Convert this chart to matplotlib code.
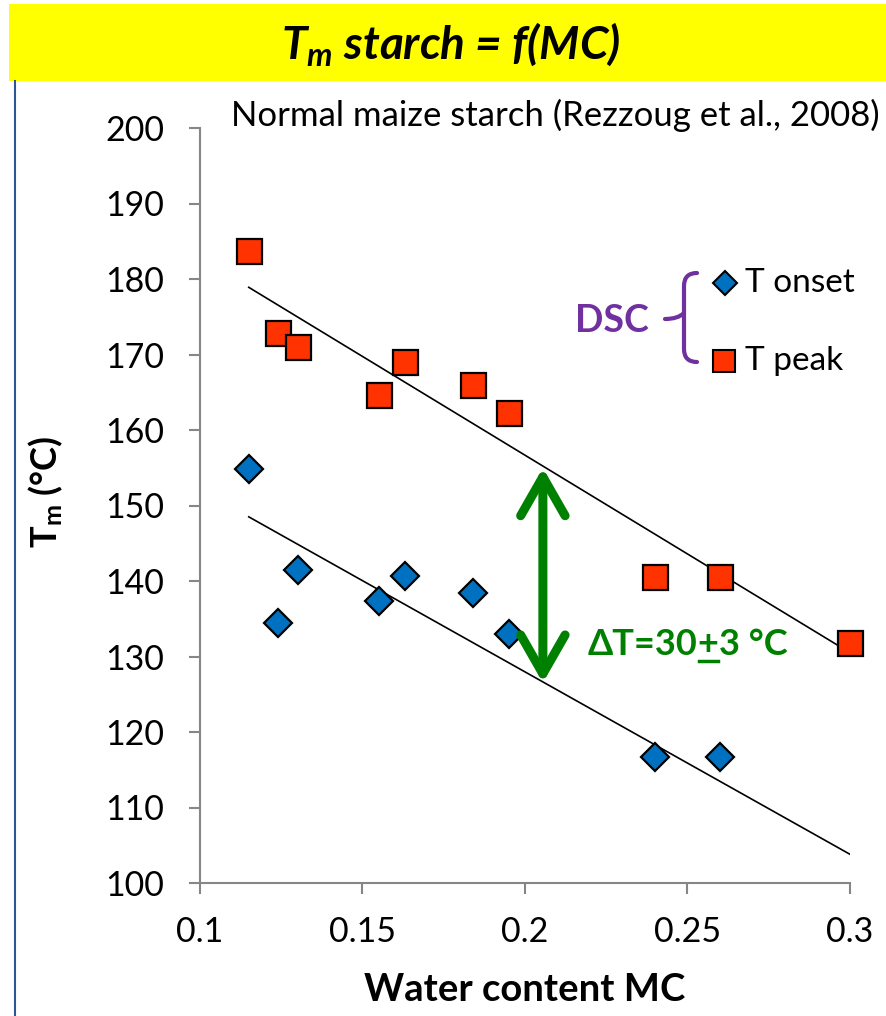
import matplotlib
matplotlib.use('Agg')
import matplotlib.pyplot as plt
import matplotlib.transforms as mtransforms
from matplotlib.patches import Rectangle, FancyArrowPatch, PathPatch
from matplotlib.path import Path
from matplotlib.lines import Line2D

plt.rcParams['font.family'] = ['Lato', 'DejaVu Sans']
plt.rcParams['mathtext.fontset'] = 'custom'
plt.rcParams['mathtext.rm'] = 'Lato'
plt.rcParams['mathtext.it'] = 'Lato:italic'
plt.rcParams['mathtext.bf'] = 'Lato:bold'
plt.rcParams['mathtext.bfit'] = 'Lato:italic:bold'

# water content and melting temperatures
mc = [0.115, 0.124, 0.130, 0.155, 0.163, 0.184, 0.195, 0.240, 0.260, 0.300]
t_peak = [183.7, 172.8, 171.0, 164.7, 169.0, 166.0, 162.2, 140.5, 140.5, 131.8]
mc_onset = [0.115, 0.124, 0.130, 0.155, 0.163, 0.184, 0.195, 0.240, 0.260]
t_onset = [154.8, 134.4, 141.5, 137.3, 140.6, 138.4, 133.0, 116.7, 116.7]

# trend lines (end points)
fit_mc = [0.115, 0.300]
fit_peak = [178.9, 130.5]
fit_onset = [148.5, 103.8]

# delta T arrow
delta_mc = 0.2055
delta_span = [126.5, 155.0]

xticks = [0.1, 0.15, 0.2, 0.25, 0.3]
xticklabels = ['0.1', '0.15', '0.2', '0.25', '0.3']
yticks = [100, 110, 120, 130, 140, 150, 160, 170, 180, 190, 200]

RED = '#FF3300'
BLUE = '#0070C0'
GREEN = '#008000'
PURPLE = '#7030A0'
GREY = '#868686'

W, H = 887, 1016
fig = plt.figure(figsize=(W / 100, H / 100), dpi=100)
# pixel coords, origin top-left
px = mtransforms.Affine2D().scale(1 / W, -1 / H).translate(0, 1) + fig.transFigure

fig.patches.append(Rectangle((9, 4), W - 9, 77, transform=px,
                             facecolor='#FFFF00', edgecolor='none'))
fig.add_artist(Line2D([15, 15], [81, H], transform=px, color='#2F5597', lw=1.5))

fig.text(451, 44, r'$\mathbfit{T_m}$ starch = f(MC)', transform=px,
         ha='center', va='center', fontsize=33, fontweight='bold', style='italic')

ax = fig.add_axes([200 / W, 1 - 883 / H, 650 / W, 755 / H])
ax.plot(fit_mc, fit_peak, color='black', lw=1.2, zorder=2)
ax.plot(fit_mc, fit_onset, color='black', lw=1.2, zorder=2)
ax.plot(mc_onset, t_onset, ls='none', marker='D', ms=14, mfc=BLUE, mec='black',
        mew=1.6, clip_on=False, zorder=3)
ax.plot(mc, t_peak, ls='none', marker='s', ms=18, mfc=RED, mec='black',
        mew=1.6, clip_on=False, zorder=4)

ax.set_xlim(0.1, 0.3)
ax.set_ylim(100, 200)
ax.set_xticks(xticks)
ax.set_xticklabels(xticklabels)
ax.set_yticks(yticks)
for s in ['top', 'right']:
    ax.spines[s].set_visible(False)
for s in ['left', 'bottom']:
    ax.spines[s].set_color(GREY)
    ax.spines[s].set_linewidth(1.5)
ax.tick_params(axis='both', length=8, width=1.5, color=GREY, labelsize=24.5)
ax.tick_params(axis='y', pad=18)
ax.tick_params(axis='x', pad=16)

arrow = FancyArrowPatch((delta_mc, delta_span[0]), (delta_mc, delta_span[1]),
                        arrowstyle='<->,head_length=2.8,head_width=1.6',
                        mutation_scale=10, color=GREEN, lw=6.5,
                        capstyle='round', joinstyle='round',
                        shrinkA=0, shrinkB=0, zorder=5)
ax.add_patch(arrow)

fig.text(555, 115, 'Normal maize starch (Rezzoug et al., 2008)', transform=px,
         ha='center', va='center', fontsize=25)
fig.text(525, 990, 'Water content MC', transform=px, ha='center', va='center',
         fontsize=27.5, fontweight='bold')
fig.text(46, 492, r'$\mathbf{T_m}$ (°C)', transform=px, ha='center', va='center',
         rotation=90, fontsize=26, fontweight='bold')

# legend with DSC bracket
fig.add_artist(Line2D([725], [283], transform=px, ls='none', marker='D', ms=12,
                      mfc=BLUE, mec='black', mew=1.5))
fig.add_artist(Line2D([724], [361], transform=px, ls='none', marker='s', ms=15.5,
                      mfc=RED, mec='black', mew=1.5))
fig.text(745, 283, 'T onset', transform=px, ha='left', va='center', fontsize=24)
fig.text(745, 361, 'T peak', transform=px, ha='left', va='center', fontsize=24)
fig.text(612, 321, 'DSC', transform=px, ha='center', va='center', fontsize=27,
         fontweight='bold', color=PURPLE)
brace = Path([(697, 273), (684, 273), (684, 286), (684, 349), (684, 362), (697, 362),
              (665, 319), (678, 319), (684, 313)],
             [Path.MOVETO, Path.CURVE3, Path.CURVE3, Path.LINETO, Path.CURVE3, Path.CURVE3,
              Path.MOVETO, Path.CURVE3, Path.CURVE3])
fig.patches.append(PathPatch(brace, transform=px, facecolor='none', edgecolor=PURPLE,
                             lw=3, capstyle='round'))

# delta T label, "+" underlined for plus-minus
fig.canvas.draw()
rend = fig.canvas.get_renderer()
x0 = 588
kw = dict(transform=px, ha='left', va='baseline', fontsize=26, fontweight='bold',
          color=GREEN)
t1 = fig.text(x0, 655, '\u0394T=30', **kw)
x1 = t1.get_window_extent(rend).x1
t2 = fig.text(x1, 655, '+', **kw)
x2 = t2.get_window_extent(rend).x1
fig.text(x2, 655, '3 °C', **kw)
fig.add_artist(Line2D([x1 + 1, x2 - 1], [661, 661], transform=px, color=GREEN, lw=2.5))

fig.savefig('out.png', dpi=100)
